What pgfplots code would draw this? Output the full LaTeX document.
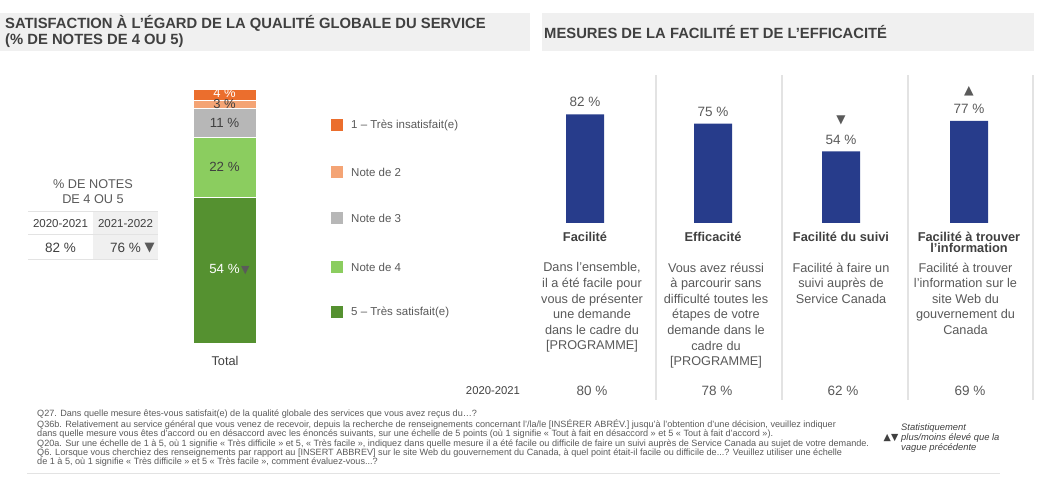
\documentclass[border=0pt]{standalone}
\usepackage{fontspec}
\setmainfont{Liberation Sans}
\newfontfamily\dejavu{DejaVu Sans}
\usepackage{pgfplots}
\pgfplotsset{compat=1.18}
\definecolor{txt}{HTML}{595959}
\definecolor{ttl}{HTML}{404040}
\definecolor{hdr}{HTML}{F0F0F0}
\definecolor{c1}{HTML}{EB6E2D}
\definecolor{c2}{HTML}{F4A475}
\definecolor{c3}{HTML}{B7B7B7}
\definecolor{c4}{HTML}{8BCD5F}
\definecolor{c5}{HTML}{559130}
\definecolor{bl}{HTML}{273C8B}
\definecolor{sepc}{HTML}{E3E3E3}
\definecolor{tri}{HTML}{5A5A5A}
\newcommand\fs[2]{\fontsize{#1}{#2}\selectfont}
\begin{document}
\begin{tikzpicture}[x=1pt,y=1pt]
\path[use as bounding box] (0,0) rectangle (1044,478);
% header boxes
\fill[hdr] (0,465) rectangle (530,427);
\fill[hdr] (542,465) rectangle (1034,427);
\node[anchor=west, inner sep=0pt, align=left, text=ttl, font=\bfseries\fs{14.8}{15.8}] at (5,446.5)
  {SATISFACTION À L’ÉGARD DE LA QUALITÉ GLOBALE DU SERVICE\\(\% DE NOTES DE 4 OU 5)};
\node[anchor=west, inner sep=0pt, text=ttl, font=\bfseries\fs{14.8}{15.8}] at (544,446)
  {MESURES DE LA FACILITÉ ET DE L’EFFICACITÉ};

% left stacked bar
\begin{axis}[at={(193pt,135pt)}, anchor=south west, scale only axis,
  width=63pt, height=254pt, xmin=-0.5, xmax=0.5, ymin=0, ymax=94,
  hide axis, clip=false, ybar stacked, bar width=63pt,
  after end axis/.code={
    \node[text=white, font=\fs{13.3}{14}, inner sep=0pt] at (axis cs:0,27) {54 \%\rlap{\hspace{1.5pt}\textcolor{tri}{\dejavu\fs{11}{11}▼}}};
    \node[text=ttl, font=\fs{13.3}{14}, inner sep=0pt] at (axis cs:0,65) {22 \%};
    \node[text=ttl, font=\fs{13.3}{14}, inner sep=0pt] at (axis cs:0,81.5) {11 \%};
    \node[text=ttl, font=\fs{13}{14}, inner sep=0pt] at (axis cs:0,88.3) {3 \%};
    \node[text=white, font=\fs{13}{14}, inner sep=0pt] at (axis cs:0,92.5) {4 \%};
  }]
\addplot[fill=c5, draw=white, line width=0.6pt] coordinates {(0,54)};
\addplot[fill=c4, draw=white, line width=0.6pt] coordinates {(0,22)};
\addplot[fill=c3, draw=white, line width=0.6pt] coordinates {(0,11)};
\addplot[fill=c2, draw=white, line width=0.6pt] coordinates {(0,3)};
\addplot[fill=c1, draw=white, line width=0.6pt] coordinates {(0,4)};
\end{axis}
\node[text=ttl, font=\fs{12.7}{14}, inner sep=0pt] at (225,117) {Total};

% legend
\foreach \c/\yy/\t in {c1/353/{1 – Très insatisfait(e)}, c2/306/{Note de 2}, c3/260/{Note de 3}, c4/211/{Note de 4}, c5/166/{5 – Très satisfait(e)}}{
  \fill[\c] (331,\yy-6) rectangle (343,\yy+6);
  \node[anchor=west, inner sep=0pt, text=txt, font=\fs{11.5}{13}] at (351,\yy) {\t};
}

% left table
\node[align=center, inner sep=0pt, text=txt, font=\fs{12.7}{15}] at (93,286.5) {\% DE NOTES\\DE 4 OU 5};
\fill[hdr] (93,266) rectangle (158,218);
\draw[sepc, line width=1pt] (28,266) -- (158,266);
\draw[sepc, line width=1pt] (28,243) -- (158,243);
\draw[sepc, line width=1pt] (28,218) -- (158,218);
\node[inner sep=0pt, text=ttl, font=\fs{11.5}{13}] at (60.5,254.5) {2020-2021};
\node[inner sep=0pt, text=ttl, font=\fs{11.5}{13}] at (125.5,254.5) {2021-2022};
\node[inner sep=0pt, text=ttl, font=\fs{13.5}{15}] at (60.5,230) {82 \%};
\node[inner sep=0pt, text=ttl, font=\fs{13.5}{15}] at (125.5,230) {76 \%};
\node[inner sep=0pt, text=tri, font=\dejavu\fs{13}{13}] at (149.5,230) {▼};

% right panel separators
\foreach \xx in {656,782,908,1033}{
  \draw[sepc, line width=1.5pt] (\xx,403) -- (\xx,78);
}

% right bars
\begin{axis}[at={(521pt,255pt)}, anchor=south west, scale only axis,
  width=512pt, height=132.5pt, xmin=-0.5, xmax=3.5, ymin=0, ymax=100,
  hide axis, clip=false, ybar, bar width=38pt,
  nodes near coords={\pgfmathprintnumber[assume math mode=true]{\pgfplotspointmeta}~\%},
  every node near coord/.append style={anchor=center, yshift=12pt, inner sep=0pt,
    font=\fs{13.5}{15}, text=txt}]
\addplot[fill=bl, draw=none] coordinates {(0,82) (1,75) (2,54) (3,77)};
\node[text=tri, font=\dejavu\fs{12}{12}, inner sep=0pt, yshift=31pt] at (axis cs:2,54) {▼};
\node[text=tri, font=\dejavu\fs{12.5}{12.5}, inner sep=0pt, yshift=29.5pt] at (axis cs:3,77) {▲};
\end{axis}

% category titles
\node[text=ttl, font=\bfseries\fs{12.8}{11.6}, inner sep=0pt] at (585,241) {Facilité};
\node[text=ttl, font=\bfseries\fs{12.8}{11.6}, inner sep=0pt] at (713,241) {Efficacité};
\node[text=ttl, font=\bfseries\fs{12.8}{11.6}, inner sep=0pt] at (841,241) {Facilité du suivi};
\node[text=ttl, font=\bfseries\fs{12.8}{11.6}, inner sep=0pt, align=center, anchor=north] at (969,246.5) {Facilité à trouver\\l’information};

% descriptions
\node[text=txt, font=\fs{12.7}{15.6}, inner sep=0pt, align=center, anchor=north] at (592,215.5)
  {Dans l’ensemble,\\il a été facile pour\\vous de présenter\\une demande\\dans le cadre du\\{[PROGRAMME]}};
\node[text=txt, font=\fs{12.7}{15.6}, inner sep=0pt, align=center, anchor=north] at (716,215.5)
  {Vous avez réussi\\à parcourir sans\\difficulté toutes les\\étapes de votre\\demande dans le\\cadre du\\{[PROGRAMME]}};
\node[text=txt, font=\fs{12.7}{15.6}, inner sep=0pt, align=center, anchor=north] at (841,215.5)
  {Facilité à faire un\\suivi auprès de\\Service Canada};
\node[text=txt, font=\fs{12.7}{15.6}, inner sep=0pt, align=center, anchor=north] at (965.5,215.5)
  {Facilité à trouver\\l’information sur le\\site Web du\\gouvernement du\\Canada};

% 2020-2021 row
\node[text=ttl, font=\fs{11.3}{13}, inner sep=0pt] at (493,87) {2020-2021};
\node[text=txt, font=\fs{13.5}{15}, inner sep=0pt] at (592,87) {80 \%};
\node[text=txt, font=\fs{13.5}{15}, inner sep=0pt] at (717,87) {78 \%};
\node[text=txt, font=\fs{13.5}{15}, inner sep=0pt] at (843,87) {62 \%};
\node[text=txt, font=\fs{13.5}{15}, inner sep=0pt] at (970,87) {69 \%};

% footnotes
\node[anchor=north west, inner sep=0pt, align=left, text=txt, font=\fs{9.1}{9.2}] at (37,68)
  {Q27. Dans quelle mesure êtes-vous satisfait(e) de la qualité globale des services que vous avez reçus du…?\\
   Q36b. Relativement au service général que vous venez de recevoir, depuis la recherche de renseignements concernant l’/la/le [INSÉRER ABRÉV.] jusqu’à l’obtention d’une décision, veuillez indiquer\\
   dans quelle mesure vous êtes d’accord ou en désaccord avec les énoncés suivants, sur une échelle de 5 points (où 1 signifie « Tout à fait en désaccord » et 5 « Tout à fait d’accord »).\\
   Q20a. Sur une échelle de 1 à 5, où 1 signifie « Très difficile » et 5, « Très facile », indiquez dans quelle mesure il a été facile ou difficile de faire un suivi auprès de Service Canada au sujet de votre demande.\\
   Q6. Lorsque vous cherchiez des renseignements par rapport au [INSERT ABBREV] sur le site Web du gouvernement du Canada, à quel point était-il facile ou difficile de...? Veuillez utiliser une échelle\\
   de 1 à 5, où 1 signifie « Très difficile » et 5 « Très facile », comment évaluez-vous...?};
\node[inner sep=0pt, text=ttl, font=\dejavu\fs{9.5}{9.5}] at (891,40) {▲▼};
\node[anchor=west, inner sep=0pt, align=left, text=ttl, font=\itshape\fs{9.4}{10}] at (901,40)
  {Statistiquement\\plus/moins élevé que la\\vague précédente};
\draw[sepc, line width=1pt] (27,4) -- (1000,4);
\end{tikzpicture}
\end{document}
